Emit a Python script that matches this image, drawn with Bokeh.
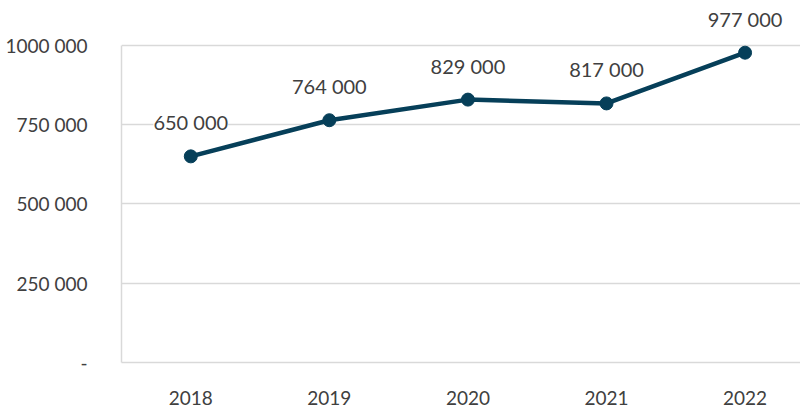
from bokeh.plotting import figure
from bokeh.models import ColumnDataSource, LabelSet, FixedTicker
from bokeh.core.properties import value
from bokeh.embed import file_html
from bokeh.resources import INLINE

years = [2018, 2019, 2020, 2021, 2022]
values = [650000, 764000, 829000, 817000, 977000]
value_labels = ["650 000", "764 000", "829 000", "817 000", "977 000"]
y_ticks = [0, 250000, 500000, 750000, 1000000]
y_tick_labels = ["-", "250 000", "500 000", "750 000", "1000 000"]

FONT = "Lato"
TXT = "#404040"
LINE = "#063F59"

src = ColumnDataSource(dict(x=years, y=values, lab=value_labels))

p = figure(width=800, height=417, output_backend="svg", toolbar_location=None,
           x_range=(2017.5, 2022.4), y_range=(0, 1110000),
           min_border_left=121, min_border_right=0, min_border_top=10, min_border_bottom=55)
p.outline_line_color = None
p.background_fill_color = "white"
p.border_fill_color = "white"

p.xgrid.grid_line_color = None
p.ygrid.grid_line_color = "#d9d9d9"
p.ygrid.grid_line_width = 1.5

p.yaxis.ticker = FixedTicker(ticks=y_ticks)
p.yaxis.major_label_overrides = {t: l for t, l in zip(y_ticks, y_tick_labels)}
p.yaxis.bounds = (0, 1000000)
p.yaxis.axis_line_color = "#d9d9d9"
p.yaxis.axis_line_width = 1.5
p.yaxis.major_tick_line_color = None
p.yaxis.minor_tick_line_color = None
p.yaxis.major_label_standoff = 28

p.xaxis.ticker = FixedTicker(ticks=years)
p.xaxis.axis_line_color = "#d9d9d9"
p.xaxis.axis_line_width = 1.5
p.xaxis.major_tick_line_color = None
p.xaxis.minor_tick_line_color = None
p.xaxis.major_label_standoff = 22

for ax in (p.xaxis, p.yaxis):
    ax.major_label_text_font = FONT
    ax.major_label_text_font_size = "19px"
    ax.major_label_text_color = TXT

p.line("x", "y", source=src, line_color=LINE, line_width=4.5)
p.scatter("x", "y", source=src, size=13, fill_color=LINE, line_color=LINE)

labels = LabelSet(x="x", y="y", text="lab", source=src, text_align="center",
                  text_baseline="middle", y_offset=34, text_font=value(FONT),
                  text_font_size="20px", text_color=TXT,
                  background_fill_color="white")
p.add_layout(labels)

open("out.html", "w").write(file_html(p, INLINE))
